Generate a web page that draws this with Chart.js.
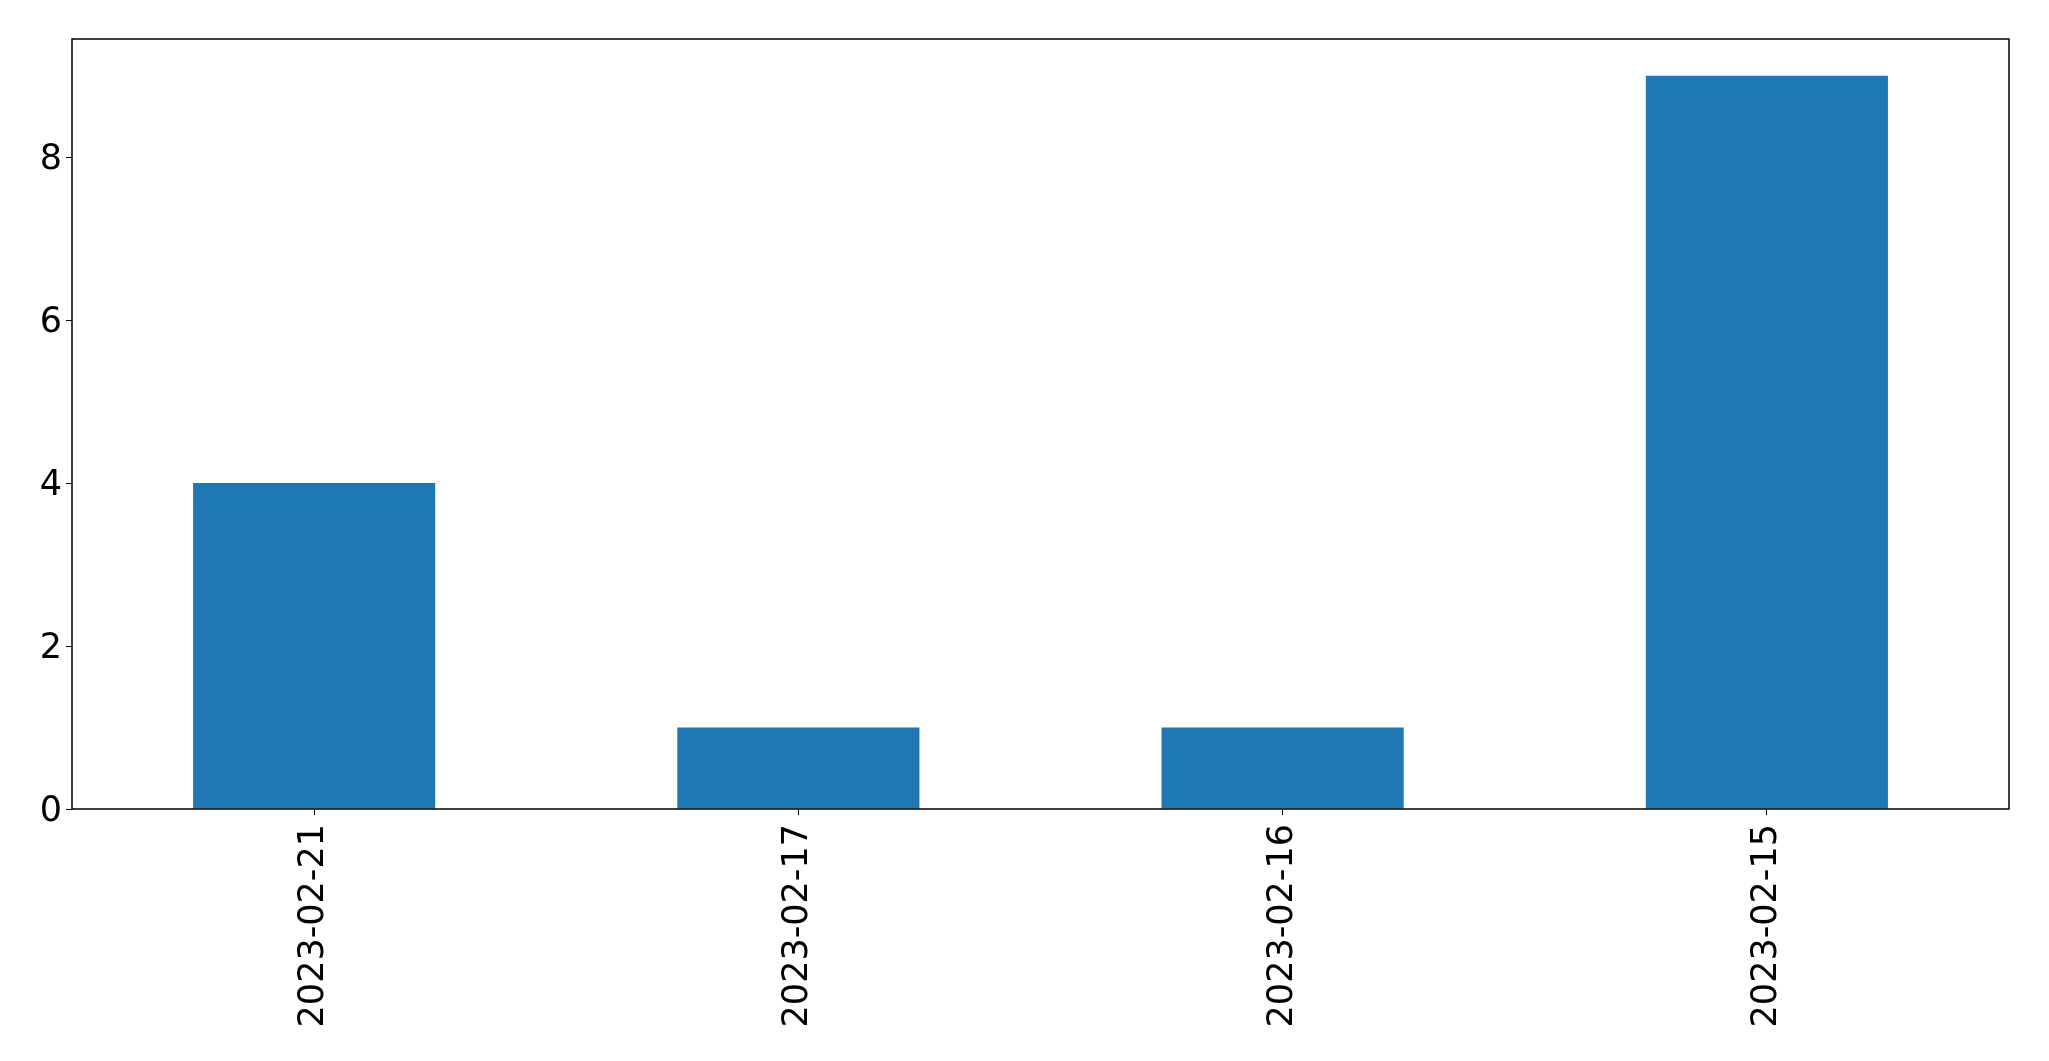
<!DOCTYPE html>
<html>
<head>
<meta charset="utf-8">
<script src="https://cdn.jsdelivr.net/npm/chart.js@4/dist/chart.umd.min.js"></script>
<style>
  html, body { margin: 0; padding: 0; background: #fff; }
  #wrap { width: 2049px; height: 1061px; }
</style>
</head>
<body>
<div id="wrap"><canvas id="barChart" width="2049" height="1061"></canvas></div>
<script>
const dates = ['2023-02-21', '2023-02-17', '2023-02-16', '2023-02-15'];
const counts = [4, 1, 1, 9];
const yTicks = [0, 2, 4, 6, 8];

// Draw the full axes frame like matplotlib
const frame = {
    id: 'frame',
    afterDraw(chart) {
        const { ctx, chartArea: a } = chart;
        ctx.save();
        ctx.strokeStyle = '#000';
        ctx.lineWidth = 1.5;
        ctx.strokeRect(a.left, a.top, a.right - a.left, a.bottom - a.top);
        ctx.restore();
    }
};

const font = { family: '"DejaVu Sans", sans-serif', size: 35 };

new Chart(document.getElementById('barChart').getContext('2d'), {
    type: 'bar',
    data: {
        labels: dates,
        datasets: [{
            data: counts,
            backgroundColor: '#1f77b4',
            barPercentage: 0.5,
            categoryPercentage: 1.0
        }]
    },
    options: {
        responsive: false,
        animation: false,
        layout: { padding: { top: 39, right: 40, left: 0, bottom: 0 } },
        scales: {
            x: {
                grid: { display: true, drawOnChartArea: false, drawTicks: true, tickLength: 6, color: '#000', offset: false },
                border: { display: false },
                ticks: { color: '#000', font, maxRotation: 90, minRotation: 90, padding: 9, autoSkip: false },
                afterFit: s => { s.height = 252; }
            },
            y: {
                min: 0,
                max: 9.45,
                grid: { display: true, drawOnChartArea: false, drawTicks: true, tickLength: 6, color: '#000' },
                border: { display: false },
                ticks: { color: '#000', font, stepSize: 2, padding: 4, labelOffset: 3 },
                afterBuildTicks: s => { s.ticks = yTicks.map(v => ({ value: v })); },
                afterFit: s => { s.width = 72; }
            }
        },
        plugins: {
            legend: { display: false },
            title: { display: false },
            tooltip: { enabled: false }
        }
    },
    plugins: [frame]
});
</script>
</body>
</html>
